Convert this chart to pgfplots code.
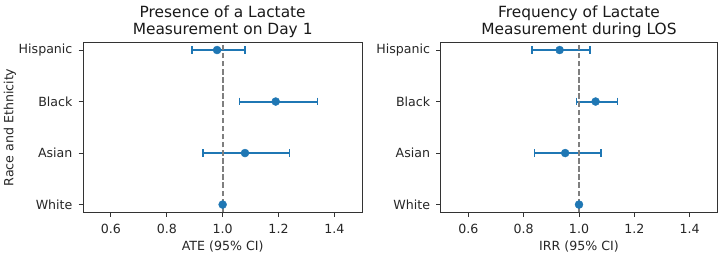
\documentclass[border=0pt]{standalone}
\usepackage{pgfplots}
\pgfplotsset{compat=1.18}
\usepackage{fontspec}
\setmainfont{DejaVu Sans}

\definecolor{tabblue}{HTML}{1F77B4}
\definecolor{refgray}{HTML}{7F7F7F}

\newcommand{\tickfont}{\fontsize{12.6bp}{15bp}\selectfont}
\newcommand{\titlefont}{\fontsize{15.4bp}{18bp}\selectfont}

\pgfplotsset{
  forest/.style={
    scale only axis,
    height=170bp,
    xmin=0.5, xmax=1.5,
    ymin=-0.15, ymax=3.15,
    xtick={0.6,0.8,1.0,1.2,1.4},
    xticklabels={0.6,0.8,1.0,1.2,1.4},
    ytick={0,1,2,3},
    yticklabels={White,Asian,Black,Hispanic},
    tick align=outside,
    tick pos=left,
    major tick length=4.4bp,
    every tick/.style={black!80, line width=0.9bp},
    axis line style={black!80, line width=0.9bp},
    ticklabel style={font=\tickfont, text=black!85},
    xticklabel style={anchor=base, inner sep=0pt, yshift=-16.5bp},
    yticklabel style={anchor=east, inner sep=0pt, xshift=-6bp},
    clip=false,
  },
  % one confidence interval: horizontal bar with end caps
  ci/.style={tabblue, line width=2bp, mark=|, mark size=3.8bp,
    mark options={line width=1.3bp, solid}},
  est/.style={only marks, mark=*, mark size=4bp,
    mark options={draw=tabblue, fill=tabblue}},
  refline/.style={refgray, line width=1.7bp, dash pattern=on 5.5bp off 2.6bp},
}

\begin{document}
\begin{tikzpicture}[x=1bp,y=1bp]

% Left panel: presence of a lactate measurement on day 1 (ATE)
\begin{axis}[forest, width=279.3bp, at={(83bp,42.7bp)}, anchor=south west]
  \addplot[ci] coordinates {(0.93,1) (1.24,1)}; % Asian
  \addplot[ci] coordinates {(1.06,2) (1.34,2)}; % Black
  \addplot[ci] coordinates {(0.89,3) (1.08,3)}; % Hispanic
  \addplot[refline] coordinates {(1.0,-0.15) (1.0,3.15)};
  \addplot[est] coordinates {(1.00,0) (1.08,1) (1.19,2) (0.98,3)};
  \node[anchor=base, inner sep=0pt, font=\titlefont, text=black!90]
    at (rel axis cs:0.5,1) [yshift=7.9bp] {Measurement on Day 1};
  \node[anchor=base, inner sep=0pt, font=\titlefont, text=black!90]
    at (rel axis cs:0.5,1) [yshift=24.8bp] {Presence of a Lactate};
  \node[anchor=base, inner sep=0pt, font=\tickfont, text=black!85]
    at (rel axis cs:0.5,0) [yshift=-37.7bp] {ATE (95\% CI)};
\end{axis}

% Right panel: frequency of lactate measurement during LOS (IRR)
\begin{axis}[forest, width=276.6bp, at={(440.7bp,42.7bp)}, anchor=south west]
  \addplot[ci] coordinates {(0.84,1) (1.08,1)}; % Asian
  \addplot[ci] coordinates {(0.99,2) (1.14,2)}; % Black
  \addplot[ci] coordinates {(0.83,3) (1.04,3)}; % Hispanic
  \addplot[refline] coordinates {(1.0,-0.15) (1.0,3.15)};
  \addplot[est] coordinates {(1.00,0) (0.95,1) (1.06,2) (0.93,3)};
  \node[anchor=base, inner sep=0pt, font=\titlefont, text=black!90]
    at (rel axis cs:0.5,1) [yshift=7.9bp] {Measurement during LOS};
  \node[anchor=base, inner sep=0pt, font=\titlefont, text=black!90]
    at (rel axis cs:0.5,1) [yshift=24.8bp] {Frequency of Lactate};
  \node[anchor=base, inner sep=0pt, font=\tickfont, text=black!85]
    at (rel axis cs:0.5,0) [yshift=-37.7bp] {IRR (95\% CI)};
\end{axis}

\node[rotate=90, anchor=base, inner sep=0pt, font=\tickfont, text=black!85]
  at (13.3bp,127.5bp) {Race and Ethnicity};

\pgfresetboundingbox
\path (0,0) rectangle (720bp,255bp);
\end{tikzpicture}
\end{document}
